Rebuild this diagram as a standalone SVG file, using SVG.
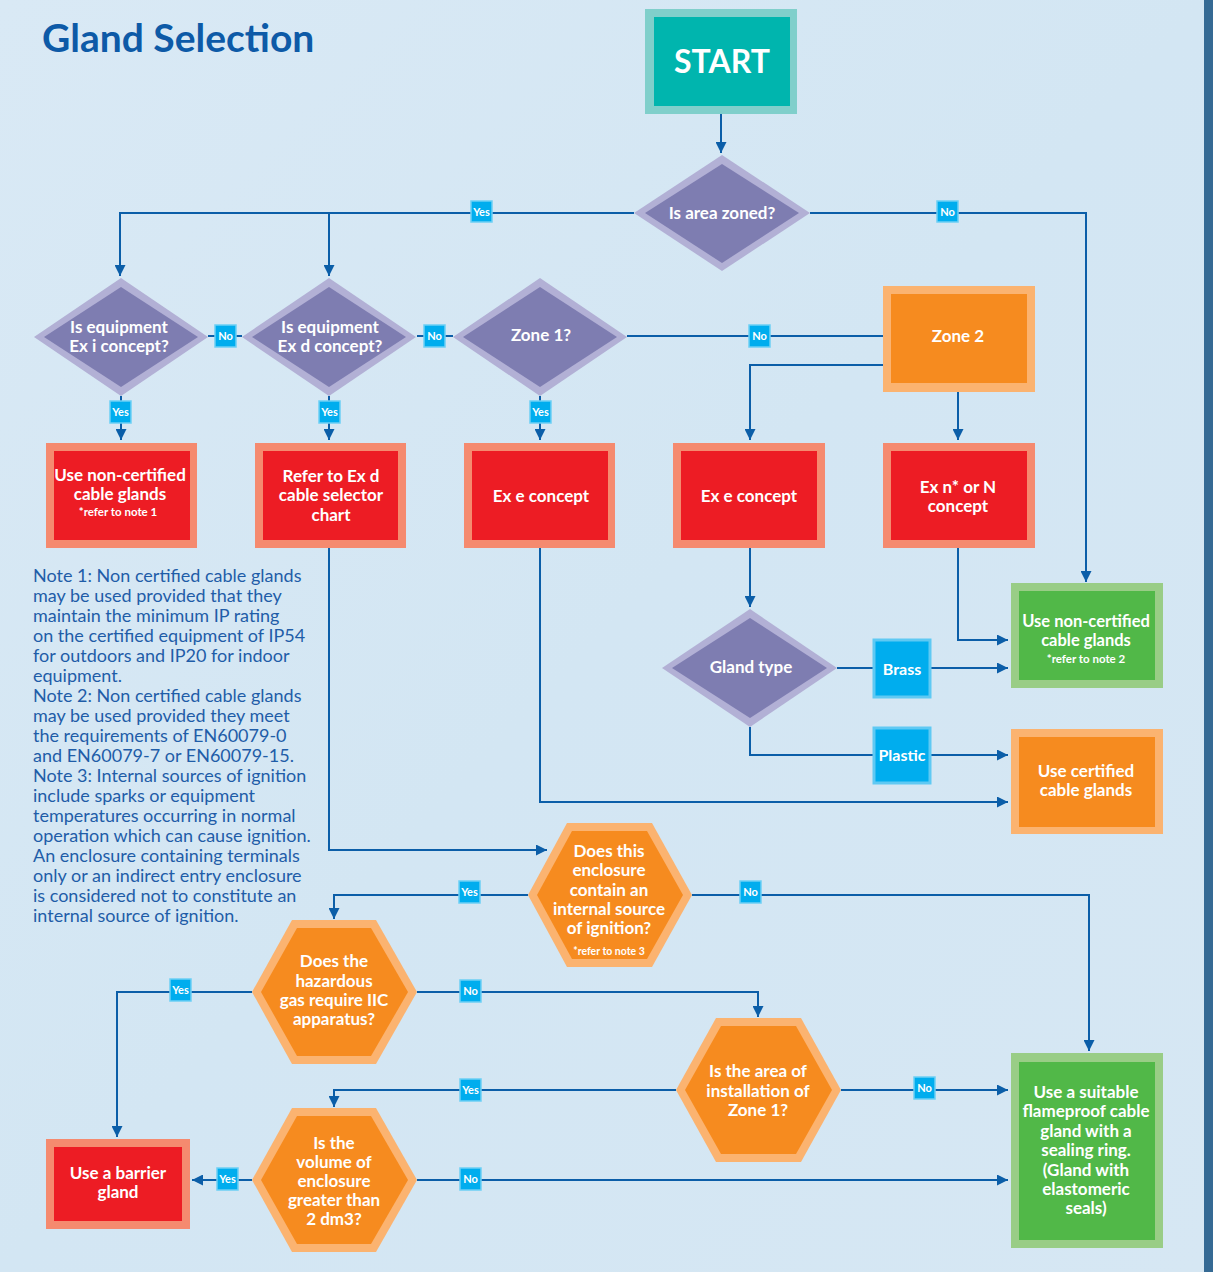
<svg xmlns="http://www.w3.org/2000/svg" width="1213" height="1272" viewBox="0 0 1213 1272">
<defs>
<linearGradient id="bg" x1="0" y1="0" x2="1" y2="1">
<stop offset="0" stop-color="#d9e9f5"/>
<stop offset="0.5" stop-color="#d3e6f3"/>
<stop offset="1" stop-color="#d6e7f3"/>
</linearGradient>
<marker id="ah" markerUnits="userSpaceOnUse" markerWidth="11" markerHeight="11" refX="11" refY="5.5" orient="auto">
<path d="M0,0 L11,5.5 L0,11 z" fill="#0b5ea8"/>
</marker>
<style>
.ln{fill:none;stroke:#0b5ea8;stroke-width:2}
.ar{marker-end:url(#ah)}
.t{font-family:Lato,"Open Sans","Liberation Sans",sans-serif;font-weight:700;fill:#ffffff;text-anchor:middle}
.t15{font-size:17px}
.t16{font-size:17px}
.tb{font-size:16px}
.sm{font-size:11.5px}
.lb{fill:#00adee;stroke:#6ccff5;stroke-width:1.5}
.lbt{font-family:Lato,"Open Sans","Liberation Sans",sans-serif;font-weight:700;font-size:11px;fill:#ffffff;text-anchor:middle}
.dO{fill:#b2b0d5}
.dI{fill:#7e7db1}
.rO{fill:#f58a6f}
.rI{fill:#ed1c24}
.oO{fill:#fbb370}
.oI{fill:#f68b1f}
.gO{fill:#99cd86}
.gI{fill:#51b848}
.note{font-family:Lato,"Open Sans","Liberation Sans",sans-serif;font-size:18px;fill:#1f5da8}
</style>
</defs>
<rect x="0" y="0" width="1213" height="1272" fill="url(#bg)"/>
<rect x="1204" y="0" width="9" height="1272" fill="#356a94"/>

<text x="42" y="52" font-family="Lato,'Open Sans','Liberation Sans',sans-serif" font-weight="700" font-size="39" fill="#0d5aa7">Gland Selection</text>

<g id="notes">
<text class="note" x="33" y="582">Note 1: Non certified cable glands</text>
<text class="note" x="33" y="602">may be used provided that they</text>
<text class="note" x="33" y="622">maintain the minimum IP rating</text>
<text class="note" x="33" y="642">on the certified equipment of IP54</text>
<text class="note" x="33" y="662">for outdoors and IP20 for indoor</text>
<text class="note" x="33" y="682">equipment.</text>
<text class="note" x="33" y="702">Note 2: Non certified cable glands</text>
<text class="note" x="33" y="722">may be used provided they meet</text>
<text class="note" x="33" y="742">the requirements of EN60079-0</text>
<text class="note" x="33" y="762">and EN60079-7 or EN60079-15.</text>
<text class="note" x="33" y="782">Note 3: Internal sources of ignition</text>
<text class="note" x="33" y="802">include sparks or equipment</text>
<text class="note" x="33" y="822">temperatures occurring in normal</text>
<text class="note" x="33" y="842">operation which can cause ignition.</text>
<text class="note" x="33" y="862">An enclosure containing terminals</text>
<text class="note" x="33" y="882">only or an indirect entry enclosure</text>
<text class="note" x="33" y="902">is considered not to constitute an</text>
<text class="note" x="33" y="922">internal source of ignition.</text>
</g>

<g id="connectors">
<path class="ln ar" d="M721,114 V153"/>
<path class="ln ar" d="M634,213 H120 V276"/>
<path class="ln ar" d="M329,213 V276"/>
<path class="ln ar" d="M810,213 H1086 V582"/>
<path class="ln" d="M208,336 H242"/>
<path class="ln" d="M417,336 H453"/>
<path class="ln" d="M627,336 H883"/>
<path class="ln ar" d="M121,396 V440"/>
<path class="ln ar" d="M329,396 V440"/>
<path class="ln ar" d="M540,396 V440"/>
<path class="ln ar" d="M883,365 H750 V440"/>
<path class="ln ar" d="M958,392 V440"/>
<path class="ln ar" d="M750,548 V607"/>
<path class="ln" d="M837,668 H873"/>
<path class="ln ar" d="M931,668 H1008"/>
<path class="ln" d="M750,727 V755 H873"/>
<path class="ln ar" d="M931,755 H1008"/>
<path class="ln ar" d="M958,548 V640 H1008"/>
<path class="ln ar" d="M540,548 V802 H1008"/>
<path class="ln ar" d="M329,548 V850 H547"/>
<path class="ln ar" d="M528,895 H334 V919"/>
<path class="ln ar" d="M692,895 H1089 V1051"/>
<path class="ln ar" d="M252,992 H117 V1137"/>
<path class="ln ar" d="M417,992 H758 V1017"/>
<path class="ln ar" d="M676,1090 H334 V1107"/>
<path class="ln ar" d="M841,1090 H1008"/>
<path class="ln ar" d="M252,1180 H192"/>
<path class="ln ar" d="M417,1180 H1008"/>

<rect class="lb" x="471" y="201" width="21" height="21"/><text class="lbt" x="481.5" y="215.5">Yes</text>
<rect class="lb" x="937" y="201" width="21" height="21"/><text class="lbt" x="947.5" y="215.5">No</text>
<rect class="lb" x="215" y="325" width="21" height="22"/><text class="lbt" x="225.5" y="340">No</text>
<rect class="lb" x="424" y="325" width="21" height="22"/><text class="lbt" x="434.5" y="340">No</text>
<rect class="lb" x="749" y="325" width="21" height="22"/><text class="lbt" x="759.5" y="340">No</text>
<rect class="lb" x="110" y="401" width="21" height="22"/><text class="lbt" x="120.5" y="416">Yes</text>
<rect class="lb" x="319" y="401" width="21" height="22"/><text class="lbt" x="329.5" y="416">Yes</text>
<rect class="lb" x="530" y="401" width="21" height="22"/><text class="lbt" x="540.5" y="416">Yes</text>
<rect x="874" y="640" width="56" height="57" fill="#00adee" stroke="#5fc9f3" stroke-width="3"/>
<text class="t tb" x="902" y="675">Brass</text>
<rect x="874" y="728" width="56" height="55" fill="#00adee" stroke="#5fc9f3" stroke-width="3"/>
<text class="t tb" x="902" y="761">Plastic</text>
<rect class="lb" x="459" y="881" width="21" height="22"/><text class="lbt" x="469.5" y="896">Yes</text>
<rect class="lb" x="740" y="881" width="21" height="22"/><text class="lbt" x="750.5" y="896">No</text>
<rect class="lb" x="170" y="979" width="21" height="22"/><text class="lbt" x="180.5" y="994">Yes</text>
<rect class="lb" x="460" y="980" width="21" height="22"/><text class="lbt" x="470.5" y="995">No</text>
<rect class="lb" x="460" y="1079" width="21" height="22"/><text class="lbt" x="470.5" y="1094">Yes</text>
<rect class="lb" x="914" y="1077" width="21" height="22"/><text class="lbt" x="924.5" y="1092">No</text>
<rect class="lb" x="217" y="1168" width="21" height="22"/><text class="lbt" x="227.5" y="1183">Yes</text>
<rect class="lb" x="460" y="1168" width="21" height="22"/><text class="lbt" x="470.5" y="1183">No</text>
</g>

<g id="start">
<rect x="645" y="9" width="152" height="105" fill="#80cfcb"/>
<rect x="654" y="17" width="136" height="89" fill="#00b5ae"/>
<text class="t" x="722" y="73" font-size="32">START</text>
</g>

<g id="zoned">
<path class="dO" d="M722,155 L810,213 L722,271 L634,213 z"/>
<path class="dI" d="M722,164 L799,213 L722,263 L645,213 z"/>
<text class="t t15" x="722" y="219">Is area zoned?</text>
</g>

<g id="exi">
<path class="dO" d="M121,278 L208,337 L121,396 L34,337 z"/>
<path class="dI" d="M121,287 L198,337 L121,387 L44,337 z"/>
<text class="t t15" x="119" y="333">Is equipment</text>
<text class="t t15" x="119" y="352">Ex i concept?</text>
</g>

<g id="exd">
<path class="dO" d="M329,278 L416,337 L329,396 L242,337 z"/>
<path class="dI" d="M329,287 L406,337 L329,387 L252,337 z"/>
<text class="t t15" x="330" y="333">Is equipment</text>
<text class="t t15" x="330" y="352">Ex d concept?</text>
</g>

<g id="zone1">
<path class="dO" d="M540,278 L627,337 L540,396 L453,337 z"/>
<path class="dI" d="M540,287 L617,337 L540,387 L463,337 z"/>
<text class="t t15" x="541" y="341">Zone 1?</text>
</g>

<g id="zone2">
<rect class="oO" x="883" y="286" width="152" height="106"/>
<rect class="oI" x="891" y="294" width="136" height="89"/>
<text class="t t15" x="958" y="342">Zone 2</text>
</g>

<g id="noncert1">
<rect class="rO" x="46" y="443" width="151" height="105"/>
<rect class="rI" x="54" y="451" width="136" height="89"/>
<text class="t t16" x="120" y="481">Use non-certified</text>
<text class="t t16" x="120" y="500">cable glands</text>
<text class="t sm" x="118" y="516">*refer to note 1</text>
</g>

<g id="exdchart">
<rect class="rO" x="255" y="443" width="151" height="105"/>
<rect class="rI" x="263" y="451" width="135" height="89"/>
<text class="t t16" x="331" y="482">Refer to Ex d</text>
<text class="t t16" x="331" y="501">cable selector</text>
<text class="t t16" x="331" y="521">chart</text>
</g>

<g id="exe1">
<rect class="rO" x="464" y="443" width="151" height="105"/>
<rect class="rI" x="472" y="451" width="136" height="89"/>
<text class="t t16" x="541" y="502">Ex e concept</text>
</g>

<g id="exe2">
<rect class="rO" x="673" y="443" width="152" height="105"/>
<rect class="rI" x="681" y="451" width="136" height="89"/>
<text class="t t16" x="749" y="502">Ex e concept</text>
</g>

<g id="exn">
<rect class="rO" x="883" y="443" width="152" height="105"/>
<rect class="rI" x="891" y="451" width="136" height="89"/>
<text class="t t16" x="958" y="493">Ex n* or N</text>
<text class="t t16" x="958" y="512">concept</text>
</g>

<g id="glandtype">
<path class="dO" d="M750,609 L837,668 L750,727 L662,668 z"/>
<path class="dI" d="M750,618 L827,668 L750,718 L672,668 z"/>
<text class="t t15" x="751" y="673">Gland type</text>
</g>

<g id="noncert2">
<rect class="gO" x="1011" y="583" width="152" height="105"/>
<rect class="gI" x="1019" y="591" width="136" height="89"/>
<text class="t" font-size="16.5" x="1086" y="627">Use non-certified</text>
<text class="t" font-size="16.5" x="1086" y="646">cable glands</text>
<text class="t sm" x="1086" y="663">*refer to note 2</text>
</g>

<g id="certified">
<rect class="oO" x="1011" y="729" width="152" height="105"/>
<rect class="oI" x="1019" y="737" width="136" height="90"/>
<text class="t t16" x="1086" y="777">Use certified</text>
<text class="t t16" x="1086" y="796">cable glands</text>
</g>

<g id="ignition">
<path class="oO" d="M528,895 L567,823 L652,823 L692,895 L652,967 L567,967 z"/>
<path class="oI" d="M537,895 L572,831 L647,831 L683,895 L647,959 L572,959 z"/>
<text class="t t15" x="609" y="857">Does this</text>
<text class="t t15" x="609" y="876">enclosure</text>
<text class="t t15" x="609" y="896">contain an</text>
<text class="t t15" x="609" y="915">internal source</text>
<text class="t t15" x="609" y="934">of ignition?</text>
<text class="t" x="609" y="955" font-size="10.5">*refer to note 3</text>
</g>

<g id="iic">
<path class="oO" d="M252,992 L292,920 L376,920 L417,992 L376,1064 L292,1064 z"/>
<path class="oI" d="M261,992 L297,928 L371,928 L408,992 L371,1056 L297,1056 z"/>
<text class="t t15" x="334" y="967">Does the</text>
<text class="t t15" x="334" y="987">hazardous</text>
<text class="t t15" x="334" y="1006">gas require IIC</text>
<text class="t t15" x="334" y="1025">apparatus?</text>
</g>

<g id="areazone1">
<path class="oO" d="M676,1090 L716,1018 L801,1018 L841,1090 L801,1162 L716,1162 z"/>
<path class="oI" d="M685,1090 L721,1026 L796,1026 L832,1090 L796,1154 L721,1154 z"/>
<text class="t t15" x="758" y="1077">Is the area of</text>
<text class="t t15" x="758" y="1097">installation of</text>
<text class="t t15" x="758" y="1116">Zone 1?</text>
</g>

<g id="volume">
<path class="oO" d="M252,1180 L292,1108 L376,1108 L417,1180 L376,1252 L292,1252 z"/>
<path class="oI" d="M261,1180 L297,1116 L371,1116 L408,1180 L371,1244 L297,1244 z"/>
<text class="t t15" x="334" y="1149">Is the</text>
<text class="t t15" x="334" y="1168">volume of</text>
<text class="t t15" x="334" y="1187">enclosure</text>
<text class="t t15" x="334" y="1206">greater than</text>
<text class="t t15" x="334" y="1225">2 dm3?</text>
</g>

<g id="barrier">
<rect class="rO" x="46" y="1139" width="144" height="90"/>
<rect class="rI" x="54" y="1147" width="128" height="74"/>
<text class="t t16" x="118" y="1179">Use a barrier</text>
<text class="t t16" x="118" y="1198">gland</text>
</g>

<g id="flameproof">
<rect class="gO" x="1011" y="1053" width="152" height="195"/>
<rect class="gI" x="1019" y="1062" width="136" height="178"/>
<text class="t t15" x="1086" y="1098">Use a suitable</text>
<text class="t t15" x="1086" y="1117">flameproof cable</text>
<text class="t t15" x="1086" y="1137">gland with a</text>
<text class="t t15" x="1086" y="1156">sealing ring.</text>
<text class="t t15" x="1086" y="1176">(Gland with</text>
<text class="t t15" x="1086" y="1195">elastomeric</text>
<text class="t t15" x="1086" y="1214">seals)</text>
</g>
</svg>
